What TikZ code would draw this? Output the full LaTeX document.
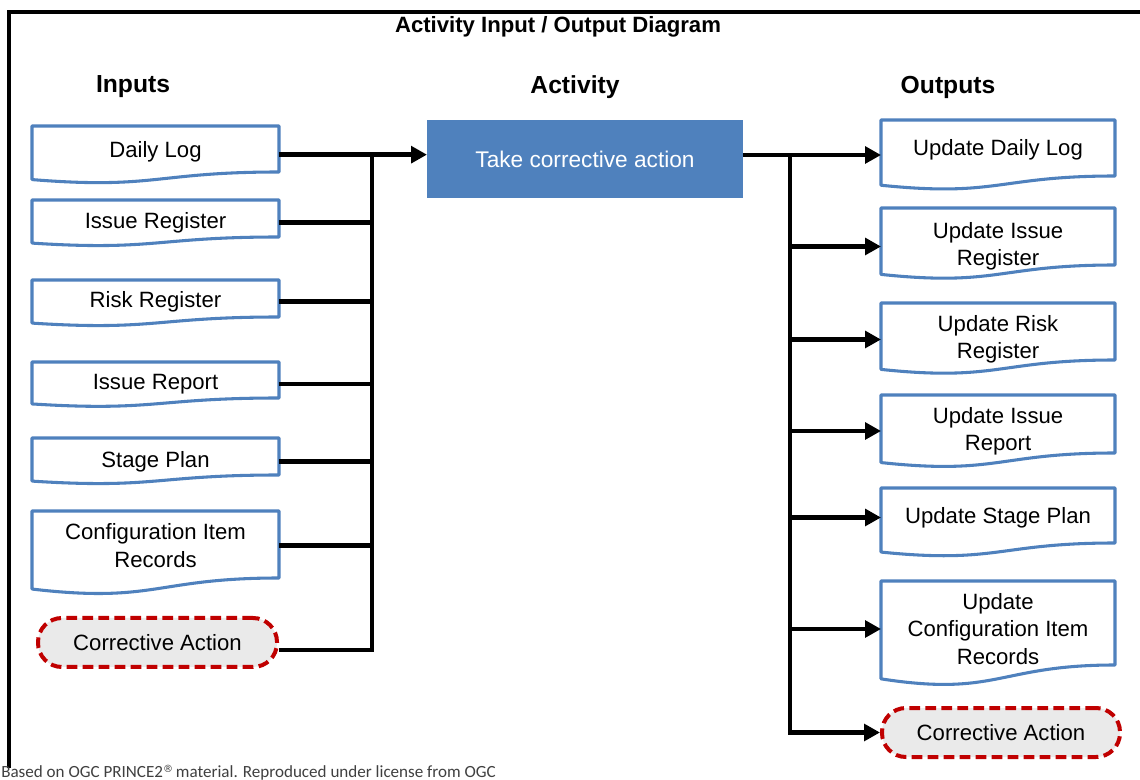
\documentclass[tikz,border=0pt]{standalone}
\usepackage{fontspec}
\setmainfont{Liberation Sans}
\newfontfamily\footfont{Carlito}
\newfontfamily\regfont{DejaVu Sans}
\usetikzlibrary{arrows.meta,calc}
\definecolor{docblue}{HTML}{4F81BD}
\definecolor{cared}{HTML}{C00000}
\definecolor{cagray}{HTML}{EAEAEA}
% #1 node name, #2 upward offset (px) of the outline relative to the text node
\newcommand\docshape[2]{%
  \draw[docline] ($(#1.north west)+(0,-#2)$) -- ($(#1.north east)+(0,-#2)$) -- ($(#1.south east)+(0,-#2)$)
    .. controls ($(#1.south)+(0,-#2)$) and ($(#1.north)!1.381!(#1.south)+(0,-#2)$) ..
    ($(#1.north west)!1.165!(#1.south west)+(0,-#2)$) -- cycle;}
\tikzset{
  boxtext/.style={font=\fontsize{16.6pt}{20.5pt}\selectfont, align=center},
  docbox/.style={boxtext, draw=none, outer sep=0pt, inner sep=1pt, anchor=north west},
  docline/.style={draw=docblue, line width=2.3pt, line join=round},
  cabox/.style={boxtext, draw=cared, fill=cagray, line width=3pt, dash pattern=on 8pt off 4pt,
    rounded corners=18pt, outer sep=1.5pt, inner sep=1pt},
  actbox/.style={boxtext, fill=docblue, text=white, draw=none, outer sep=0pt,
    minimum width=316*0.75pt, minimum height=78*0.75pt, font=\fontsize{17pt}{20pt}\selectfont},
  conn/.style={line width=3.4pt, black, line join=miter},
  arr/.style={conn, -{Triangle[length=12pt,width=12.5pt]}},
  head/.style={font=\bfseries\fontsize{18.5pt}{22pt}\selectfont},
}
\begin{document}
\begin{tikzpicture}[x=0.75pt, y=-0.75pt]
\useasboundingbox (0,0) rectangle (1140,780);
\fill[white] (0,0) rectangle (1140,780);
% frame
\draw[line width=2.4pt] (9,768) -- (9,12) -- (1140,12);
% titles
\node[font=\bfseries\fontsize{16.6pt}{20pt}\selectfont] (title) at (558,27) {Activity Input / Output Diagram};
\node[head] (hin) at (133,87) {Inputs};
\node[head] (hact) at (575,87) {Activity};
\node[head] (hout) at (948,87) {Outputs};

% inputs (node placed at top+offset; outline drawn offset back up)
\node[docbox, minimum width=247*0.75pt, minimum height=46*0.75pt] (in1) at (32,129) {Daily Log};
\node[docbox, minimum width=247*0.75pt, minimum height=37*0.75pt] (in2) at (32,204) {Issue Register};
\node[docbox, minimum width=247*0.75pt, minimum height=37*0.75pt] (in3) at (32,283) {Risk Register};
\node[docbox, minimum width=247*0.75pt, minimum height=36*0.75pt] (in4) at (32,366) {Issue Report};
\node[docbox, minimum width=247*0.75pt, minimum height=37*0.75pt] (in5) at (32,443) {Stage Plan};
\node[docbox, minimum width=247*0.75pt, minimum height=67*0.75pt] (in6) at (32,512) {Configuration Item\\Records};
\docshape{in1}{3}\docshape{in2}{4}\docshape{in3}{3}\docshape{in4}{4}\docshape{in5}{5}\docshape{in6}{1}
\node[cabox, minimum width=239*0.75pt, minimum height=49*0.75pt] (ca1) at (157.5,642.5) {Corrective Action};

% activity
\node[actbox] (act) at (585,159) {Take corrective action};

% outputs
\node[docbox, minimum width=234*0.75pt, minimum height=56*0.75pt] (out1) at (881,122) {Update Daily Log};
\node[docbox, minimum width=234*0.75pt, minimum height=57*0.75pt] (out2) at (881,218) {Update Issue\\Register};
\node[docbox, minimum width=234*0.75pt, minimum height=57*0.75pt] (out3) at (881,311) {Update Risk\\Register};
\node[docbox, minimum width=234*0.75pt, minimum height=58*0.75pt] (out4) at (881,402) {Update Issue\\Report};
\node[docbox, minimum width=234*0.75pt, minimum height=55*0.75pt] (out5) at (881,490) {Update Stage Plan};
\node[docbox, minimum width=234*0.75pt, minimum height=84*0.75pt] (out6) at (881,587) {Update\\Configuration Item\\Records};
\docshape{out1}{2}\docshape{out2}{10}\docshape{out3}{8}\docshape{out4}{7}\docshape{out5}{2}\docshape{out6}{6}
\node[cabox, minimum width=238*0.75pt, minimum height=49*0.75pt] (ca2) at (1001,732.5) {Corrective Action};

% input connectors
\coordinate (bl) at (372,0);
\draw[arr] ([yshift=-2pt]in1.east) -- ([yshift=-2pt]in1.east -| act.west);
\draw[conn] ([yshift=-2pt]in1.east -| bl) -- ([yshift=-5.5pt]ca1.east -| bl) -- ([yshift=-5.5pt]ca1.east);
\foreach \n in {in2,in3,in4,in5,in6} {\draw[conn] (\n.east) -- (\n.east -| bl);}

% output connectors
\coordinate (br) at (790,0);
\draw[arr] ([yshift=3pt]act.east) -- ([yshift=3pt]act.east -| out1.west);
\draw[arr] ([yshift=3pt]act.east -| br) -- (ca2.west -| br) -- (ca2.west);
\foreach \n in {out2,out3,out4,out5,out6} {\draw[arr] (\n.west -| br) -- (\n.west);}

% footer
\node[font=\footfont\fontsize{12.8pt}{14pt}\selectfont, text=black!75, anchor=base west, inner sep=0pt] (foot) at (1,777) {Based on OGC PRINCE2\raisebox{0.6ex}{\regfont\fontsize{7.5pt}{8pt}\selectfont ®}\,material. Reproduced under license from OGC};
\end{tikzpicture}
\end{document}
